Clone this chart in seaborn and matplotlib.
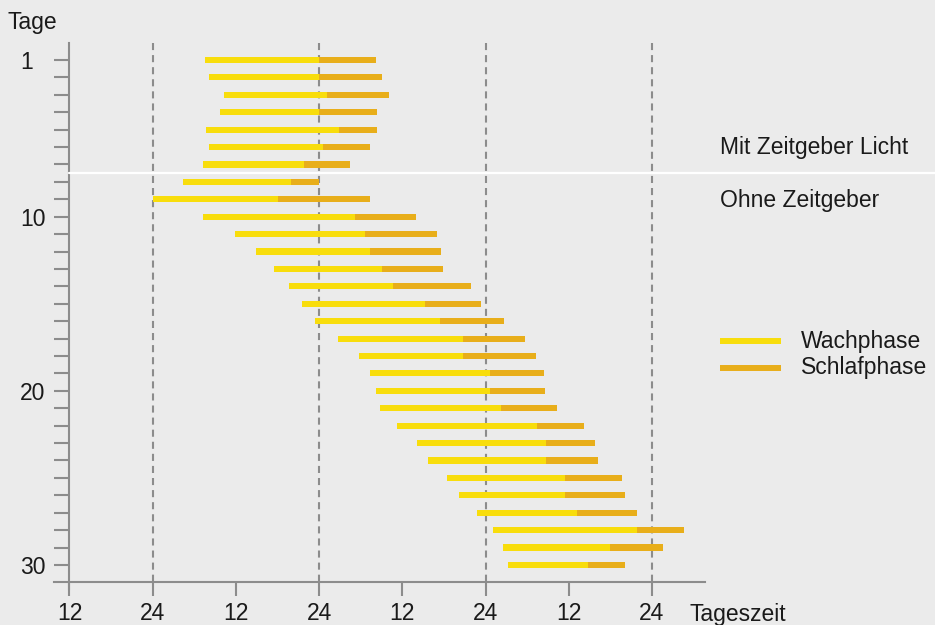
import matplotlib
matplotlib.use("Agg")
import matplotlib.pyplot as plt
import seaborn as sns
import pandas as pd
from matplotlib.lines import Line2D

# hours counted from 12:00 of the first plotted day (left axis)
days = list(range(1, 31))
wake_start = [19.5, 20.1, 22.3, 21.7, 19.7, 20.1, 19.3, 16.4, 12.0, 19.3,
              23.9, 26.9, 29.5, 31.7, 33.5, 35.4, 38.7, 41.7, 43.3, 44.2,
              44.8, 47.2, 50.1, 51.7, 54.4, 56.2, 58.8, 61.1, 62.5, 63.2]
sleep_start = [36.0, 36.0, 37.1, 36.0, 38.9, 36.6, 33.8, 31.9, 30.1, 41.2,
               42.6, 43.3, 45.1, 46.7, 51.3, 53.4, 56.7, 56.7, 60.6, 60.6,
               62.2, 67.4, 68.7, 68.7, 71.5, 71.5, 73.2, 81.8, 77.9, 74.8]
sleep_end = [44.2, 45.1, 46.1, 44.3, 44.3, 43.3, 40.5, 36.0, 43.3, 50.0,
             53.0, 53.6, 53.9, 57.9, 59.3, 62.7, 65.7, 67.3, 68.4, 68.6,
             70.3, 74.2, 75.8, 76.2, 79.7, 80.1, 81.8, 88.6, 85.6, 80.1]
x_ticks = [0, 12, 24, 36, 48, 60, 72, 84]
x_labels = ["12", "24", "12", "24", "12", "24", "12", "24"]
midnights = [12, 36, 60, 84]
y_labels = {1: "1", 10: "10", 20: "20", 30: "30"}

df = pd.DataFrame({"Tag": days, "wach": wake_start,
                   "schlaf": sleep_start, "ende": sleep_end})

bg = "#ebebeb"
yellow = "#f8dd0c"
orange = "#e8ae1a"
grey = "#8c8c8c"
fs = 16.5

sns.set_theme(style="white", rc={"axes.facecolor": bg, "figure.facecolor": bg})
plt.rcParams["font.family"] = ["Liberation Sans", "DejaVu Sans"]

fig = plt.figure(figsize=(9.35, 6.25), dpi=100)
W, H = 935, 625
ax = fig.add_axes([53.5 / W, (H - 589.3) / H, 651.2 / W, 546.7 / H])

ax.barh(df["Tag"], df["schlaf"] - df["wach"], left=df["wach"],
        height=0.35, color=yellow, linewidth=0, zorder=3)
ax.barh(df["Tag"], df["ende"] - df["schlaf"], left=df["schlaf"],
        height=0.35, color=orange, linewidth=0, zorder=3)

for m in midnights:
    ax.plot([m, m], [0, 31], color=grey, lw=1.5, ls=(0, (3.4, 2.4)), zorder=2)

# boundary between light cycle and free-running phase
ax.plot([0, 130], [7.5, 7.5], color="white", lw=1.6, clip_on=False, zorder=4)

ax.set_xlim(-2.3, 91.6)
ax.set_ylim(31.4, 0)

sns.despine(ax=ax)
ax.spines["left"].set_position(("data", 0))
ax.spines["bottom"].set_position(("data", 31))
for s in ["left", "bottom"]:
    ax.spines[s].set_color(grey)
    ax.spines[s].set_linewidth(1.5)

ax.set_xticks(x_ticks)
ax.set_xticklabels(x_labels)
ax.set_yticks(days)
ax.set_yticklabels([y_labels.get(d, "") for d in days])
ax.tick_params(axis="x", bottom=True, direction="out", length=10, width=1.5,
               color=grey, pad=4, labelsize=fs, labelcolor="#1a1a1a")
ax.tick_params(axis="y", left=True, direction="out", length=10.8, width=1.5,
               color=grey, pad=24.8, labelsize=fs, labelcolor="#1a1a1a")
for lab in ax.get_yticklabels():
    lab.set_horizontalalignment("left")
ax.set_xlabel("")
ax.set_ylabel("")

fig.text(7 / W, 1 - 29 / H, "Tage", fontsize=fs, va="baseline", color="#1a1a1a")
fig.text(689 / W, 1 - 621 / H, "Tageszeit", fontsize=fs, va="baseline", color="#1a1a1a")
fig.text(720 / W, 1 - 154 / H, "Mit Zeitgeber Licht", fontsize=fs, va="baseline", color="#1a1a1a")
fig.text(720 / W, 1 - 207 / H, "Ohne Zeitgeber", fontsize=fs, va="baseline", color="#1a1a1a")

# legend drawn by hand
for yc, yb, col, lab in [(340.7, 348, yellow, "Wachphase"), (367.7, 374, orange, "Schlafphase")]:
    fig.add_artist(Line2D([720 / W, 781 / W], [1 - yc / H, 1 - yc / H],
                          color=col, lw=4.3, solid_capstyle="butt"))
    fig.text(801 / W, 1 - yb / H, lab, fontsize=fs, va="baseline", color="#1a1a1a")

fig.savefig("out.png", dpi=100, facecolor=bg)
